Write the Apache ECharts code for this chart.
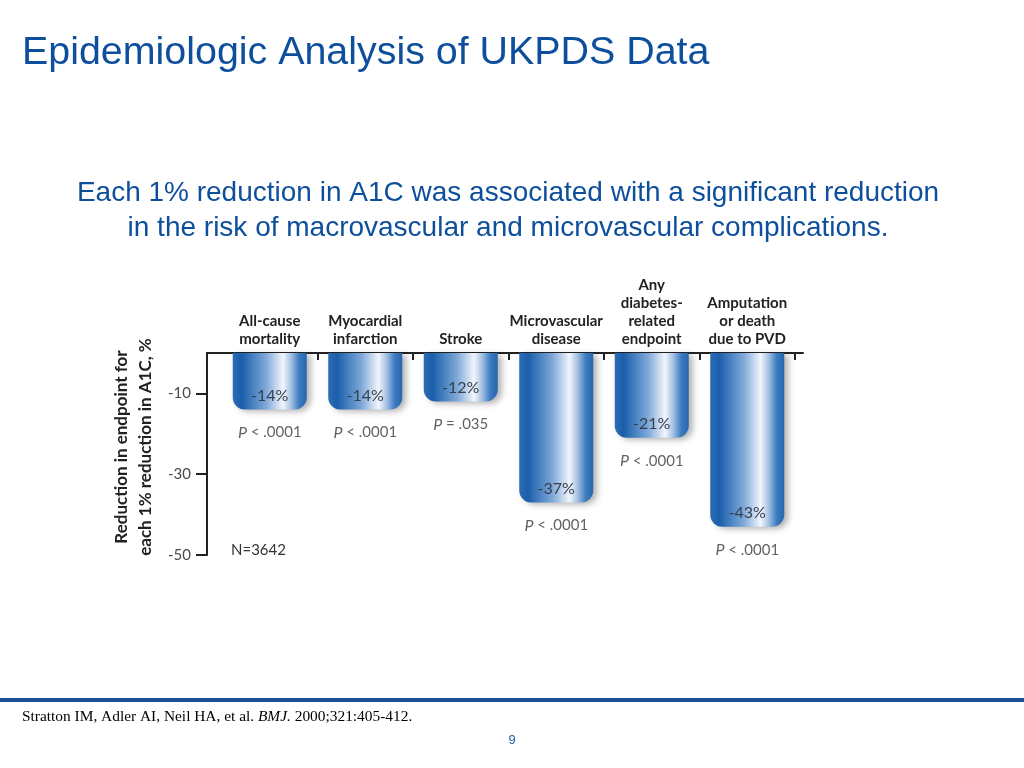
<!DOCTYPE html>
<html><head><meta charset="utf-8">
<script src="https://cdn.jsdelivr.net/npm/echarts@6/dist/echarts.min.js"></script>
<style>html,body{margin:0;padding:0;background:#fff}#c{width:1024px;height:768px}</style>
</head><body><div id="c"></div>
<script>
const categories = ['All-cause\nmortality', 'Myocardial\ninfarction', 'Stroke', 'Microvascular\ndisease', 'Any\ndiabetes-\nrelated\nendpoint', 'Amputation\nor death\ndue to PVD'];
const reductions = [-14, -14, -12, -37, -21, -43];
const pValues = ['< .0001', '< .0001', '= .035', '< .0001', '< .0001', '< .0001'];
const yTickValues = [-50, -30, -10];
const titleText = 'Epidemiologic Analysis of UKPDS Data';
const subtitleText = 'Each 1% reduction in A1C was associated with a significant reduction\nin the risk of macrovascular and microvascular complications.';
const yAxisName = 'Reduction in endpoint for\neach 1% reduction in A1C, %';
const sampleNote = 'N=3642';

const chart = echarts.init(document.getElementById('c'));
const barGradient = new echarts.graphic.LinearGradient(0, 0, 1, 0, [
  {offset: 0, color: '#2c6cb4'},
  {offset: 0.12, color: '#1a5fab'},
  {offset: 0.45, color: '#7ea8d8'},
  {offset: 0.68, color: '#f2f6fb'},
  {offset: 0.79, color: '#a3c0e3'},
  {offset: 0.9, color: '#3c7bc0'},
  {offset: 1, color: '#2566ae'}
]);
const blue = '#0d4f9c';
chart.setOption({
  animation: false,
  backgroundColor: '#fff',
  grid: [
    {left: 222, right: 229, top: 353, bottom: 213, containLabel: false, outerBoundsMode: 'none'},
    {left: 207, right: 221, top: 353, bottom: 213, containLabel: false, outerBoundsMode: 'none'}
  ],
  xAxis: [{
    type: 'category', gridIndex: 0, data: categories, position: 'top',
    axisLine: {show: false, onZero: false},
    axisTick: {show: true, inside: true, length: 7, interval: function (i) { return i > 0; }, lineStyle: {color: '#222', width: 2}},
    axisLabel: {interval: 0, margin: 5, fontFamily: 'Lato', fontWeight: 'bold', fontSize: 15, lineHeight: 18, color: '#222'},
    splitLine: {show: false}
  }, {
    type: 'value', gridIndex: 1, min: 0, max: 1, position: 'top',
    axisLine: {show: true, onZero: false, lineStyle: {color: '#222', width: 2}},
    axisTick: {show: false}, axisLabel: {show: false}, splitLine: {show: false}
  }],
  yAxis: [{
    type: 'value', gridIndex: 0, min: -50, max: 0, interval: 20, offset: 15,
    name: yAxisName, nameLocation: 'middle', nameRotate: 90, nameGap: 46,
    nameTextStyle: {fontFamily: 'Lato', fontWeight: 'bold', fontSize: 17, lineHeight: 24, color: '#222', padding: [0, 0, 0, 14]},
    axisLine: {show: true, lineStyle: {color: '#222', width: 2}},
    axisTick: {show: true, length: 11, customValues: yTickValues, lineStyle: {color: '#222', width: 2}},
    axisLabel: {customValues: yTickValues, margin: 16, fontFamily: 'Lato', fontSize: 15, color: '#4a4a4a'},
    splitLine: {show: false}
  }, {
    type: 'value', gridIndex: 1, show: false
  }],
  series: [{
    type: 'bar', xAxisIndex: 0, yAxisIndex: 0, data: reductions, barWidth: 74,
    itemStyle: {color: barGradient, borderRadius: [0, 0, 12, 12], shadowColor: 'rgba(0,0,0,0.3)', shadowBlur: 6, shadowOffsetX: 4, shadowOffsetY: 2},
    label: {show: true, position: 'insideBottom', distance: 6, formatter: '{c}%', fontFamily: 'Lato', fontSize: 16, color: '#34404e'},
    silent: true
  }, {
    type: 'scatter', xAxisIndex: 0, yAxisIndex: 0, data: reductions, symbolSize: 0, silent: true,
    label: {
      show: true, position: 'bottom', distance: 15,
      formatter: function (p) { return '{i|P} ' + pValues[p.dataIndex]; },
      fontFamily: 'Lato', fontSize: 15, color: '#3a3a3a',
      rich: {i: {fontFamily: 'Lato', fontStyle: 'italic', fontSize: 16, color: '#3a3a3a'}}
    }
  }],
  graphic: [
    {type: 'text', x: 22, y: 53, style: {text: titleText, font: '39.4px "Liberation Sans", Arial, sans-serif', fill: blue, verticalAlign: 'middle'}},
    {type: 'text', x: 508, y: 210.5, style: {text: subtitleText, font: '28px "Liberation Sans", Arial, sans-serif', fill: blue, align: 'center', verticalAlign: 'middle', lineHeight: 35}},
    {type: 'text', x: 231, y: 550, style: {text: sampleNote, font: '15px Lato', fill: '#333', verticalAlign: 'middle'}},
    {type: 'rect', shape: {x: 0, y: 698, width: 1024, height: 4}, style: {fill: '#1b4f93'}},
    {type: 'text', x: 22, y: 717, style: {
      text: '{n|Stratton IM, Adler AI, Neil HA, et al. }{it|BMJ.}{n| 2000;321:405-412.}',
      rich: {n: {font: '15.4px "Liberation Serif", serif', fill: '#000'}, it: {font: 'italic 15.4px "Liberation Serif", serif', fill: '#000'}},
      verticalAlign: 'middle'}},
    {type: 'text', x: 512, y: 740, style: {text: '9', font: '13px "Liberation Sans", Arial, sans-serif', fill: '#1f5fa8', align: 'center', verticalAlign: 'middle'}}
  ]
});
</script></body></html>
